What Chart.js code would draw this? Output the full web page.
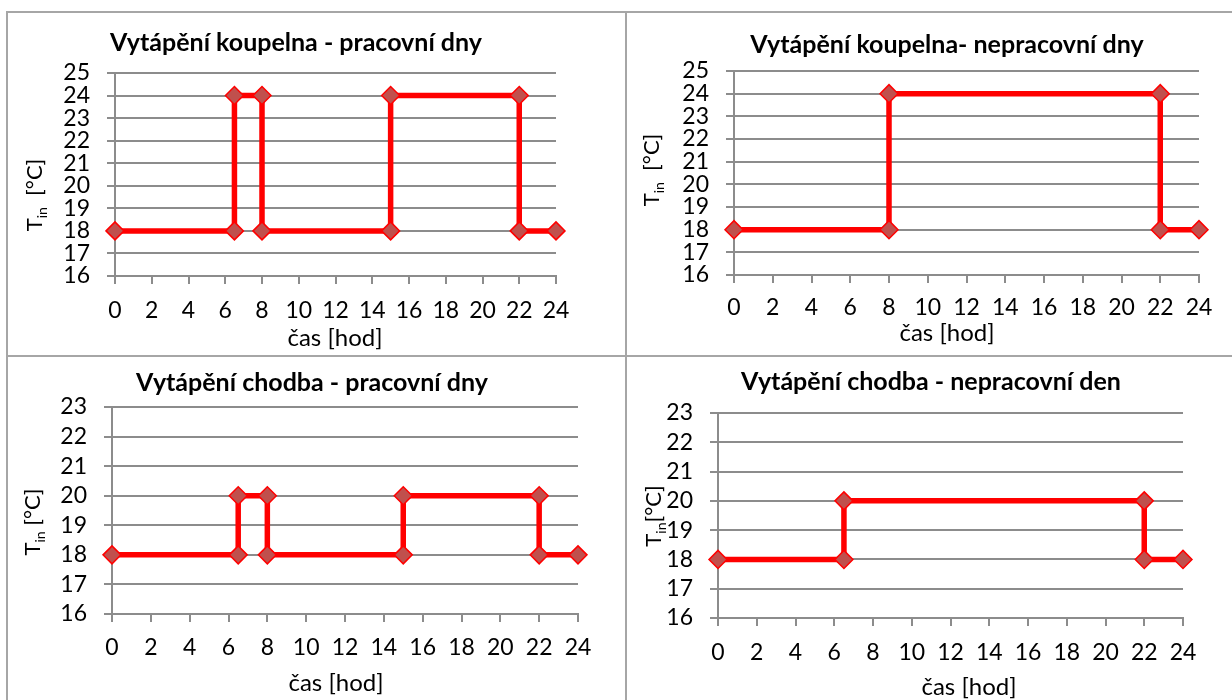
<!DOCTYPE html>
<html>
<head>
<meta charset="utf-8">
<script src="https://cdn.jsdelivr.net/npm/chart.js@4/dist/chart.umd.min.js"></script>
<style>
  body { margin: 0; background: #fff; }
  #page { position: relative; width: 1232px; height: 700px; overflow: hidden; }
  .line { position: absolute; background: #a6a6a6; }
  .cell { position: absolute; }
</style>
</head>
<body>
<div id="page">
  <div class="line" style="left:7px;top:11px;width:1225px;height:2px"></div>
  <div class="line" style="left:6px;top:11px;width:2px;height:689px"></div>
  <div class="line" style="left:625px;top:11px;width:2px;height:689px"></div>
  <div class="line" style="left:7px;top:355px;width:1225px;height:2px"></div>
  <div class="cell" style="left:8px;top:13px;width:617px;height:342px"><canvas id="c1"></canvas></div>
  <div class="cell" style="left:627px;top:13px;width:605px;height:342px"><canvas id="c2"></canvas></div>
  <div class="cell" style="left:8px;top:357px;width:617px;height:343px"><canvas id="c3"></canvas></div>
  <div class="cell" style="left:627px;top:357px;width:605px;height:343px"><canvas id="c4"></canvas></div>
</div>
<script>
// hodiny na ose x
const hourTicks = [0, 2, 4, 6, 8, 10, 12, 14, 16, 18, 20, 22, 24]
const koupelnaTicks = [16, 17, 18, 19, 20, 21, 22, 23, 24, 25]
const chodbaTicks = [16, 17, 18, 19, 20, 21, 22, 23]

// koupelna - pracovni dny
const koupelnaPracX = [0, 6.5, 6.5, 8, 8, 15, 15, 22, 22, 24]
const koupelnaPracY = [18, 18, 24, 24, 18, 18, 24, 24, 18, 18]
// koupelna - nepracovni dny
const koupelnaVolnoX = [0, 8, 8, 22, 22, 24]
const koupelnaVolnoY = [18, 18, 24, 24, 18, 18]
// chodba - pracovni dny
const chodbaPracX = [0, 6.5, 6.5, 8, 8, 15, 15, 22, 22, 24]
const chodbaPracY = [18, 18, 20, 20, 18, 18, 20, 20, 18, 18]
// chodba - nepracovni den
const chodbaVolnoX = [0, 6.5, 6.5, 22, 22, 24]
const chodbaVolnoY = [18, 18, 20, 20, 18, 18]

const FONT = 'Lato, "Open Sans", sans-serif'
const GRID = '#8c8c8c'
const Y_W = 70, X_H = 70

// afterDraw: titulek, popisky os (T s dolnim indexem)
const textPlugin = {
  id: 'texts',
  afterDraw(chart, args, o) {
    const ctx = chart.ctx
    ctx.save()
    ctx.fillStyle = '#000'
    ctx.textAlign = 'center'
    ctx.textBaseline = 'middle'
    ctx.font = 'bold 25px ' + FONT
    ctx.fillText(o.title, o.titleX - o.ox, o.titleY - o.oy)
    ctx.font = '24px ' + FONT
    ctx.fillText('čas [hod]', o.xTitleX - o.ox, o.xTitleY - o.oy)

    ctx.translate(o.yTitleX - o.ox, o.yTitleY - o.oy)
    ctx.rotate(-Math.PI / 2)
    ctx.textAlign = 'left'
    ctx.textBaseline = 'alphabetic'
    ctx.font = '22px ' + FONT
    const wT = ctx.measureText('T').width
    const wRest = ctx.measureText(o.unit).width
    ctx.font = '14px ' + FONT
    const wIn = ctx.measureText('in').width
    let x = -(wT + wIn + wRest) / 2
    ctx.font = '22px ' + FONT
    ctx.fillText('T', x, 8)
    ctx.font = '14px ' + FONT
    ctx.fillText('in', x + wT, 13)
    ctx.font = '22px ' + FONT
    ctx.fillText(o.unit, x + wT + wIn, 8)
    ctx.restore()
  }
}

function makeChart(id, xs, ys, yTicks, p) {
  const [ox, oy, w, h] = p.box
  const [L, R, T, B] = p.area
  return new Chart(document.getElementById(id), {
    type: 'scatter',
    data: {
      datasets: [{
        data: xs.map((x, i) => ({ x: x, y: ys[i] })),
        showLine: true,
        borderColor: '#ff0000',
        borderWidth: 5.5,
        pointStyle: 'rectRot',
        pointRadius: 9,
        pointHoverRadius: 9,
        pointBackgroundColor: '#c0504d',
        pointBorderColor: '#ff0000',
        pointBorderWidth: 1.5,
        clip: false
      }]
    },
    options: {
      responsive: true,
      maintainAspectRatio: false,
      animation: false,
      events: [],
      layout: {
        padding: { left: L - ox - Y_W, top: T - oy, right: ox + w - R, bottom: oy + h - B - X_H }
      },
      plugins: {
        legend: { display: false },
        tooltip: { enabled: false },
        texts: Object.assign({ ox: ox, oy: oy }, p.texts)
      },
      scales: {
        x: {
          type: 'linear',
          min: 0,
          max: 24,
          afterFit: s => { s.height = X_H },
          afterBuildTicks: s => { s.ticks = hourTicks.map(v => ({ value: v })) },
          grid: { drawOnChartArea: false, color: GRID, lineWidth: 2, tickLength: 8 },
          border: { color: GRID, width: 2 },
          ticks: { color: '#000', padding: p.xPad, maxRotation: 0, autoSkip: false, font: { family: FONT, size: 23 } }
        },
        y: {
          min: yTicks[0],
          max: yTicks[yTicks.length - 1],
          afterFit: s => { s.width = Y_W },
          afterBuildTicks: s => { s.ticks = yTicks.map(v => ({ value: v })) },
          grid: { color: GRID, lineWidth: 2, tickLength: 8 },
          border: { color: GRID, width: 2 },
          ticks: { color: '#000', padding: p.yPad, autoSkip: false, font: { family: FONT, size: 23, lineHeight: 1 } }
        }
      }
    },
    plugins: [textPlugin]
  })
}

makeChart('c1', koupelnaPracX, koupelnaPracY, koupelnaTicks, {
  box: [8, 13, 617, 342], area: [115, 556, 73, 276], xPad: 13, yPad: 17,
  texts: { title: 'Vytápění koupelna - pracovní dny', titleX: 296, titleY: 43,
    xTitleX: 335, xTitleY: 338, yTitleX: 34, yTitleY: 195, unit: '  [°C]' }
})
makeChart('c2', koupelnaVolnoX, koupelnaVolnoY, koupelnaTicks, {
  box: [627, 13, 605, 342], area: [734, 1199, 71, 275], xPad: 11, yPad: 17,
  texts: { title: 'Vytápění koupelna- nepracovní dny', titleX: 947, titleY: 45,
    xTitleX: 947, xTitleY: 333, yTitleX: 651, yTitleY: 170, unit: '  [°C]' }
})
makeChart('c3', chodbaPracX, chodbaPracY, chodbaTicks, {
  box: [8, 357, 617, 343], area: [112, 578, 407, 614], xPad: 12, yPad: 17,
  texts: { title: 'Vytápění chodba - pracovní dny', titleX: 312, titleY: 383,
    xTitleX: 336, xTitleY: 683, yTitleX: 32, yTitleY: 522, unit: ' [°C]' }
})
makeChart('c4', chodbaVolnoX, chodbaVolnoY, chodbaTicks, {
  box: [627, 357, 605, 343], area: [718, 1183, 413, 618], xPad: 13, yPad: 17,
  texts: { title: 'Vytápění chodba - nepracovní den', titleX: 931, titleY: 382,
    xTitleX: 969, xTitleY: 687, yTitleX: 653, yTitleY: 516, unit: '[°C]' }
})
</script>
</body>
</html>
